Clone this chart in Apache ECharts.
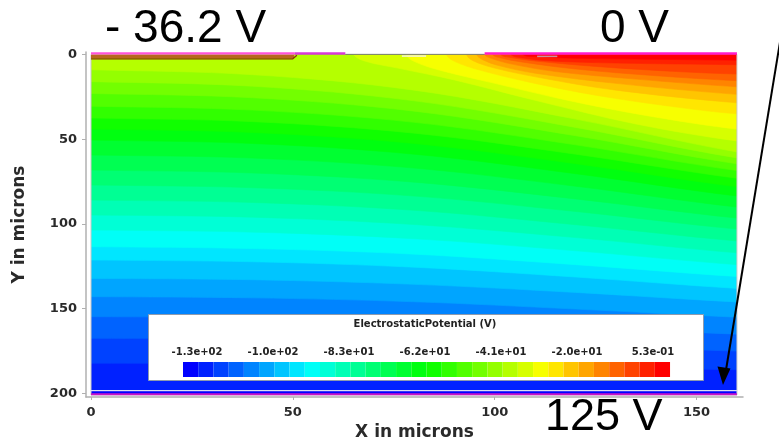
<!DOCTYPE html>
<html>
<head>
<meta charset="utf-8">
<script src="https://cdn.jsdelivr.net/npm/echarts@6.0.0/dist/echarts.min.js"></script>
<style>
html, body { margin: 0; padding: 0; background: #fff; }
#main { width: 779px; height: 439px; }
</style>
</head>
<body>
<div id="main"></div>
<script>
// colour bar range (V) and number of bands
const potMin = -124.9;
const potMax = 0.53;
const bandCount = 32;
const barLabels = ['-1.3e+02', '-1.0e+02', '-8.3e+01', '-6.2e+01', '-4.1e+01', '-2.0e+01', '5.3e-01'];

const xTicks = [0, 50, 100, 150];
const yTicks = [0, 50, 100, 150, 200];

// sensor size in microns
const widthUm = 160;
const depthUm = 200.9;

// iso-lines, [x, y] in microns
// contour k is the border between band k-1 (below) and band k (above)
const contours = [
  [[0, 198.3], [160, 198.5]],
  [[0, 182.2], [40, 182.4], [80, 183.2], [120, 184.5], [160, 186]],
  [[0, 167.5], [40, 168], [80, 169.4], [120, 172], [160, 175]],
  [[0, 154.7], [40, 155.3], [80, 157.3], [120, 160.9], [160, 165]],
  [[0, 142.9], [40, 143.6], [80, 145.9], [120, 150.2], [160, 155]],
  [[0, 132.1], [40, 132.9], [80, 135.6], [120, 140.4], [160, 146]],
  [[0, 121.3], [40, 122.3], [80, 125.5], [120, 131.3], [160, 138]],
  [[0, 113.4], [40, 114.5], [80, 117.8], [120, 124], [160, 131]],
  [[0, 103.6], [40, 104.8], [80, 108.7], [120, 115.8], [160, 124]],
  [[0, 94.7], [40, 96], [80, 100.3], [120, 108], [160, 117]],
  [[0, 85.9], [40, 87.3], [80, 91.9], [120, 100.4], [160, 110]],
  [[0, 77], [40, 78.6], [80, 83.5], [120, 92.6], [160, 103]],
  [[0, 68.2], [40, 69.9], [80, 75.3], [120, 85.2], [160, 96.5]],
  [[0, 59.3], [40, 61.1], [80, 67], [120, 77.7], [160, 90]],
  [[0, 50.5], [40, 52.5], [80, 58.8], [120, 70.3], [160, 83.5]],
  [[0, 44], [40, 46], [80, 52.5], [120, 64.4], [160, 78]],
  [[0, 37.5], [40, 39.6], [80, 46.4], [120, 58.8], [160, 73]],
  [[0, 30.5], [40, 32.8], [80, 40], [120, 53.3], [160, 68.5]],
  [[0, 23], [40, 25.5], [80, 33.4], [120, 47.9], [160, 64.5]],
  [[0, 16], [40, 18.7], [80, 27.3], [120, 43], [160, 61]],
  [[0, 9], [40, 11.9], [80, 21], [120, 38.1], [160, 57.5]],
  [[65, 0], [68, 4], [76, 8], [90, 15], [110, 27], [135, 41], [160, 51]],
  [[78, 0], [80, 4], [86, 9], [100, 17], [120, 28], [140, 37], [160, 44]],
  [[88, 0], [90, 4], [96, 9], [108, 16], [125, 24], [145, 31], [160, 35]],
  [[93, 0], [94.5, 3.5], [100, 8], [112, 14], [130, 21], [160, 28.5]],
  [[95.5, 0], [97, 3], [101, 6.5], [110, 11], [130, 17], [160, 23.5]],
  [[97.5, 0], [99.5, 2.5], [104, 5.5], [115, 10], [135, 14.5], [160, 19]],
  [[99.5, 0], [101.5, 2], [107, 4.5], [120, 8.5], [140, 12.5], [160, 15.4]],
  [[101.5, 0], [104, 1.8], [110, 3.8], [125, 7], [145, 10], [160, 11.5]],
  [[104, 0], [107, 2], [114, 3.8], [130, 5], [160, 6]],
  [[107, 0], [111, 1.3], [120, 2.2], [140, 2.8], [160, 3.3]]
];

// contacts and layers on the two surfaces, microns
const frontMetalLeft = [[0, -0.6], [50.5, -0.6]];
const frontMetalLeftEnd = [[50.5, -0.6], [63, -0.6]];
const frontOxide = [[63, -0.1], [97.5, -0.1]];
const frontMetalRight = [[97.5, -0.6], [160, -0.6]];
const leftImplant = [[0, 1.2], [50.3, 1.2]];
const leftImplantEdge = [[0, 2.5], [50, 2.5], [51, 0.4]];
const gapMark = [[77, 0.9], [83, 0.9]];
const rightMark = [[110.5, 1.1], [115.5, 1.1]];
const backLayer = [[0, 198.3], [160, 198.3]];
const backContact = [[0, 200.5], [160, 200.5]];
const outline = [[0, 0], [0, 200.9], [160, 200.9], [160, 0]];

// band colours: blue -> cyan -> green -> yellow -> red
const anchors = [[0, 0, 255], [0, 255, 255], [0, 255, 0], [255, 255, 0], [255, 0, 0]];
const palette = [];
for (let i = 0; i < bandCount; i++) {
  const t = i / (bandCount - 1) * (anchors.length - 1);
  const j = Math.min(Math.floor(t), anchors.length - 2);
  const f = t - j;
  const c = anchors[j].map((v, n) => Math.round(v + (anchors[j + 1][n] - v) * f));
  palette.push('rgb(' + c.join(',') + ')');
}

function regionPoints(i) {
  if (i === 0) return [[-6, -6], [166, -6], [166, 207], [-6, 207]];
  const c = contours[i - 1];
  const first = c[0], last = c[c.length - 1];
  const pts = [];
  if (first[0] <= 0) { pts.push([-6, -6], [-6, first[1]]); }
  else { pts.push([first[0], -6]); }
  c.forEach(p => pts.push(p));
  pts.push([166, last[1]], [166, -6]);
  return pts;
}

function seg(data, color, width, z) {
  return {
    type: 'line', data: data, symbol: 'none', silent: true, z: z || 4,
    lineStyle: { color: color, width: width }, clip: false
  };
}

const tickFont = { color: '#2a2a2a', fontFamily: 'DejaVu Sans', fontWeight: 'bold', fontSize: 13 };
const nameFont = { color: '#2a2a2a', fontFamily: 'DejaVu Sans', fontWeight: 'bold', fontSize: 17 };
const axisGrey = '#b0b0b0';

const chart = echarts.init(document.getElementById('main'));
chart.setOption({
  animation: false,
  grid: { left: 86, right: 36, top: 52, bottom: 42, outerBoundsMode: 'none', containLabel: false },
  xAxis: {
    type: 'value', min: -1.24, max: 161.5,
    name: 'X in microns', nameLocation: 'middle', nameGap: 24, nameTextStyle: nameFont,
    axisLine: { show: true, onZero: false, lineStyle: { color: axisGrey, width: 1.5 } },
    axisTick: { show: true, length: 3, customValues: xTicks, lineStyle: { color: axisGrey } },
    axisLabel: Object.assign({ customValues: xTicks, margin: 9.5 }, tickFont),
    splitLine: { show: false }
  },
  yAxis: {
    type: 'value', inverse: true, min: -1.5, max: 202.1,
    name: 'Y in microns', nameLocation: 'middle', nameGap: 58, nameTextStyle: nameFont,
    axisLine: { show: true, onZero: false, lineStyle: { color: axisGrey, width: 1.5 } },
    axisTick: { show: true, length: 4, customValues: yTicks, lineStyle: { color: axisGrey } },
    axisLabel: Object.assign({ customValues: yTicks, margin: 9 }, tickFont),
    splitLine: { show: false }
  },
  visualMap: {
    type: 'piecewise', min: potMin, max: potMax, splitNumber: bandCount,
    orient: 'horizontal', left: 183, top: 362, padding: 0,
    itemWidth: 15.22, itemHeight: 15, itemGap: 0, itemSymbol: 'rect',
    showLabel: false, hoverLink: false, selectedMode: false,
    seriesIndex: [], inRange: { color: palette }, z: 6
  },
  graphic: [
    { type: 'rect', left: 148, top: 314, z: 5,
      shape: { width: 555, height: 66 }, style: { fill: '#fff', stroke: '#8d9aae', lineWidth: 1 } },
    { type: 'text', x: 425, y: 324, z: 7,
      style: { text: 'ElectrostaticPotential (V)', font: 'bold 10px "DejaVu Sans"', fill: '#222',
        align: 'center', verticalAlign: 'middle', textAlign: 'center', textVerticalAlign: 'middle' } }
  ].concat(barLabels.map((t, i) => ({
    type: 'text', x: 197 + i * 76, y: 352, z: 7,
    style: { text: t, font: 'bold 10px "DejaVu Sans"', fill: '#222',
      align: 'center', verticalAlign: 'middle', textAlign: 'center', textVerticalAlign: 'middle' }
  }))).concat([
    { type: 'text', x: 105, y: 29, z: 7,
      style: { text: '- 36.2 V', font: '46px "Liberation Sans"', fill: '#000',
        align: 'left', verticalAlign: 'middle', textAlign: 'left', textVerticalAlign: 'middle' } },
    { type: 'text', x: 600, y: 29, z: 7,
      style: { text: '0 V', font: '46px "Liberation Sans"', fill: '#000',
        align: 'left', verticalAlign: 'middle', textAlign: 'left', textVerticalAlign: 'middle' } },
    { type: 'text', x: 545, y: 418, z: 7,
      style: { text: '125 V', font: '45px "Liberation Sans"', fill: '#000',
        align: 'left', verticalAlign: 'middle', textAlign: 'left', textVerticalAlign: 'middle' } },
    { type: 'line', z: 7, shape: { x1: 780, y1: 42, x2: 726, y2: 370 },
      style: { stroke: '#000', lineWidth: 2 } },
    { type: 'polygon', z: 7, shape: { points: [[723, 385], [717.5, 366.5], [730.5, 368.5]] },
      style: { fill: '#000' } }
  ]),
  series: [
    {
      type: 'custom', coordinateSystem: 'cartesian2d', silent: true, z: 2,
      data: palette.map((c, i) => [i, i]),
      renderItem: function (params, api) {
        const i = params.dataIndex;
        const tl = api.coord([0, 0]);
        const br = api.coord([widthUm, depthUm]);
        return {
          type: 'polygon',
          shape: { points: regionPoints(i).map(p => api.coord(p)), smooth: i === 0 ? 0 : 0.35 },
          style: { fill: palette[i], stroke: palette[i], lineWidth: 0.6 },
          clipPath: { type: 'rect', shape: { x: tl[0], y: tl[1], width: br[0] - tl[0], height: br[1] - tl[1] } }
        };
      }
    },
    seg(outline, '#c9c9c9', 1, 3),
    seg(leftImplant, '#b8661e', 3),
    seg(leftImplantEdge, '#8a2a08', 1.2),
    seg(frontOxide, '#7a7a7a', 1),
    seg(frontMetalLeft, '#ff52da', 2.5),
    seg(frontMetalLeftEnd, '#d83ad8', 2.5),
    seg(frontMetalRight, '#ff1ccc', 2.5),
    seg(gapMark, '#f4f4d8', 1.5),
    seg(rightMark, '#c8909c', 1.5),
    seg(backLayer, '#dcdcf4', 1.2),
    seg(backContact, '#c814c8', 2)
  ]
});
</script>
</body>
</html>
